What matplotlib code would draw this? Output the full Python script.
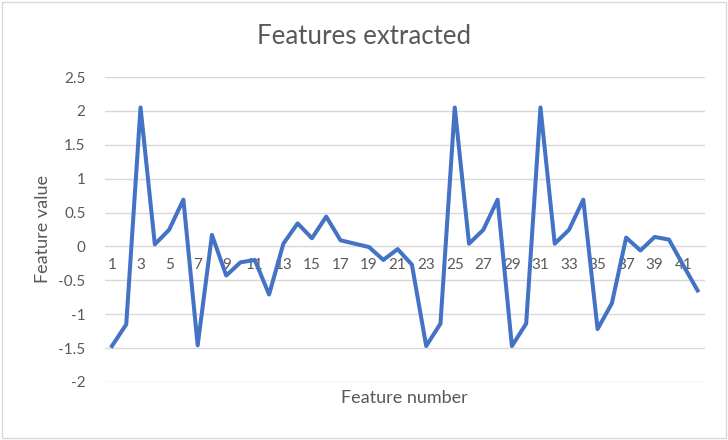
import numpy as np
import matplotlib
matplotlib.use("Agg")
import matplotlib.pyplot as plt

# Feature values
feature_number = list(range(1, 43))
feature_value = [
    -1.47, -1.15, 2.05, 0.03, 0.245, 0.69, -1.46, 0.17, -0.43, -0.235,
    -0.20, -0.71, 0.04, 0.34, 0.12, 0.44, 0.09, 0.04, -0.01, -0.20,
    -0.04, -0.27, -1.47, -1.14, 2.05, 0.04, 0.245, 0.69, -1.47, -1.14,
    2.05, 0.04, 0.245, 0.69, -1.22, -0.84, 0.13, -0.06, 0.14, 0.10,
    -0.28, -0.65,
]
y_ticks = [-2, -1.5, -1, -0.5, 0, 0.5, 1, 1.5, 2, 2.5]
y_tick_labels = ["-2", "-1.5", "-1", "-0.5", "0", "0.5", "1", "1.5", "2", "2.5"]
x_tick_labels = [str(n) for n in feature_number[::2]]

plt.rcParams["font.family"] = ["Lato", "DejaVu Sans"]
text_color = "#595959"
grid_color = "#D9D9D9"

fig = plt.figure(figsize=(7.28, 4.4), dpi=100)
ax = fig.add_axes([0.144, 0.132, 0.824, 0.693])

ax.plot(feature_number, feature_value, color="#4472C4", linewidth=2.9,
        solid_joinstyle="round", zorder=3)

ax.set_xlim(0.5, 42.5)
ax.set_ylim(-2, 2.5)
ax.set_yticks(y_ticks)
ax.set_yticklabels(y_tick_labels)
ax.set_xticks(feature_number[::2])
ax.set_xticklabels(x_tick_labels)

ax.grid(axis="y", color=grid_color, linewidth=1, zorder=0)
for side in ["top", "right", "left"]:
    ax.spines[side].set_visible(False)
ax.spines["bottom"].set_position(("data", 0))
ax.spines["bottom"].set_color(grid_color)
ax.spines["bottom"].set_zorder(1)

ax.tick_params(axis="both", length=0, colors=text_color, labelsize=11)
ax.tick_params(axis="x", pad=8)
ax.tick_params(axis="y", pad=14)

fig.text(0.5 * (0.144 + 0.968), 1 - 398 / 440, "Feature number", ha="center",
         va="center", fontsize=13, color=text_color)
fig.text(43 / 728, 0.5 * (0.132 + 0.825), "Feature value", ha="center",
         va="center", rotation=90, fontsize=13, color=text_color)
fig.text(364 / 728, 1 - 37 / 440, "Features extracted", ha="center",
         va="center", fontsize=18.6, color=text_color)

# light chart border
fig.patches.append(plt.Rectangle((0.003, 0.004), 0.994, 0.992, fill=False,
                                 edgecolor=grid_color, linewidth=1,
                                 transform=fig.transFigure))

fig.savefig("out.png", dpi=100)
